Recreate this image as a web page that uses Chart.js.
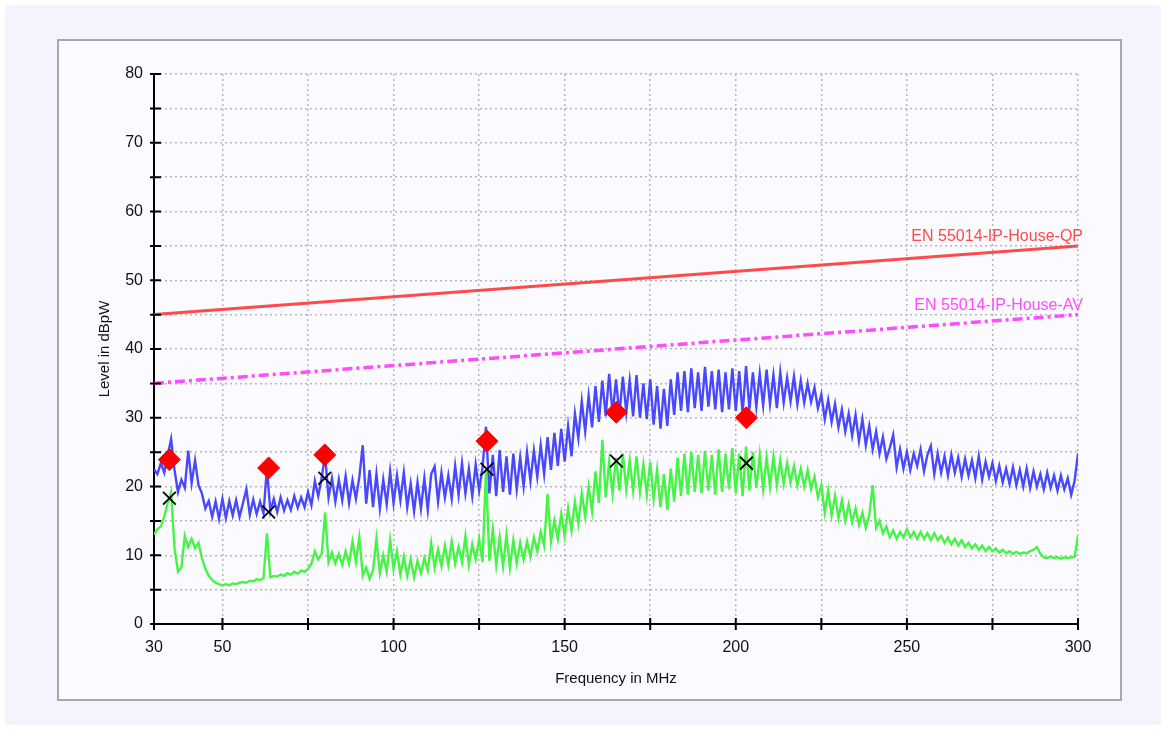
<!DOCTYPE html>
<html>
<head>
<meta charset="utf-8">
<script src="https://cdn.jsdelivr.net/npm/chart.js@4.4.1/dist/chart.umd.min.js"></script>
<style>
  html, body { margin: 0; padding: 0; background: #ffffff; }
  #outer { position: absolute; left: 5px; top: 5px; width: 1156px; height: 720px; background: #f4f4fd; }
  #panel { position: absolute; left: 57px; top: 39px; width: 1061px; height: 658px; background: #fbfbff;
           border: 2px solid #a6a6ae; }
  #wrap { position: absolute; left: 0; top: 0; width: 1166px; height: 731px; }
</style>
</head>
<body>
<div id="outer"></div>
<div id="panel"></div>
<div id="wrap"><canvas id="emiChart" width="1166" height="731"></canvas></div>
<script>
// frequency grid of the sweep, 1 MHz steps
var freqs = [];
for (var f = 30; f <= 300; f++) freqs.push(f);

// peak trace (blue), dBpW
var peakLevel = [
  22.5, 21.8, 23.4, 22.0, 24.5, 26.9, 22.4, 19.2, 21.0, 19.8,
  25.2, 20.5, 23.8, 20.2, 19.0, 16.8, 17.9, 15.6, 17.8, 15.3,
  18.2, 15.4, 17.9, 15.8, 18.0, 15.6, 17.6, 19.6, 15.9, 18.1,
  16.0, 17.8, 16.1, 22.7, 16.4, 18.2, 16.3, 18.4, 16.5, 18.0,
  16.6, 18.6, 16.9, 18.4, 17.0, 19.2, 17.3, 20.8, 18.6, 21.3,
  24.6, 18.4, 21.2, 17.8, 21.0, 18.0, 21.5, 17.6, 20.9, 18.2,
  21.4, 26.0, 17.5, 22.4, 17.0, 21.8, 16.8, 21.0, 17.4, 22.2,
  17.6, 21.6, 18.0, 22.0, 17.0, 20.4, 16.4, 20.6, 16.8, 21.2,
  16.6, 21.8, 22.9, 17.8, 22.0, 18.4, 21.6, 18.2, 23.0, 18.8,
  23.4, 19.0, 22.6, 18.6, 23.2, 19.4, 22.8, 28.7, 19.0, 24.6,
  18.6, 25.3, 19.2, 24.4, 18.8, 24.8, 19.6, 24.2, 20.0, 25.0,
  20.8, 25.2, 21.4, 26.0, 21.8, 27.2, 22.4, 27.8, 23.0, 28.4,
  23.6, 28.8, 24.4, 30.6, 27.0, 32.4, 28.0, 33.2, 28.6, 34.6,
  29.4, 35.4, 30.2, 36.4, 30.6, 35.6, 30.4, 36.0, 30.8, 35.4,
  30.2, 36.2, 30.0, 35.0, 29.8, 35.6, 29.0, 34.6, 28.4, 34.2,
  28.8, 35.6, 30.4, 36.6, 31.0, 36.8, 30.8, 37.2, 31.4, 36.6,
  31.0, 37.4, 31.6, 36.8, 31.2, 37.0, 30.8, 36.6, 31.2, 37.2,
  31.0, 36.8, 30.6, 37.5, 31.2, 36.6, 31.6, 36.4, 31.8, 37.0,
  32.0, 36.2, 31.4, 36.6, 32.2, 35.8, 32.4, 36.0, 32.0, 35.4,
  32.2, 35.0, 32.3, 34.4, 31.4, 33.4, 29.8, 32.6, 29.4, 32.0,
  28.6, 31.2, 28.0, 30.6, 27.4, 30.4, 26.6, 29.8, 26.0, 28.8,
  25.4, 28.0, 24.8, 27.2, 24.0, 25.6, 27.5, 22.8, 25.4, 22.6,
  25.0, 22.4, 24.8, 23.0, 25.4, 22.2, 24.6, 25.9, 21.8, 24.8,
  22.0, 24.4, 21.6, 24.6, 22.0, 24.2, 21.4, 24.0, 21.6, 23.8,
  21.2, 24.4, 21.0, 23.6, 21.4, 23.4, 20.8, 23.0, 20.6, 22.6,
  20.4, 22.8, 20.2, 22.4, 20.0, 22.6, 19.8, 22.2, 20.0, 21.8,
  19.6, 22.0, 19.8, 21.6, 19.4, 21.6, 19.6, 21.2, 18.8, 20.8,
  24.8
];

// average trace (green), dBpW
var avgLevel = [
  13.0, 13.8, 14.2, 15.6, 17.6, 19.2, 11.0, 7.6, 8.2, 12.8,
  11.2, 12.4, 11.0, 11.8, 9.6, 8.0, 7.0, 6.4, 6.0, 5.8,
  5.6, 5.8, 5.6, 5.9, 5.8, 6.0, 6.1, 6.0, 6.3, 6.2,
  6.5, 6.4, 6.7, 13.2, 6.8, 7.0, 6.9, 7.2, 7.0, 7.4,
  7.2, 7.6, 7.3, 7.8, 7.6, 8.0, 8.8, 10.6, 9.4, 10.2,
  16.2, 9.0, 10.4, 8.8, 10.2, 8.6, 10.6, 8.8, 12.0, 9.0,
  12.6, 7.0, 8.2, 6.6, 7.8, 12.4, 7.4, 10.0, 7.6, 12.2,
  8.0, 10.6, 7.2, 9.8, 7.0, 9.4, 6.8, 9.2, 7.4, 9.6,
  7.8, 11.8, 8.2, 10.8, 8.4, 11.4, 8.6, 12.0, 8.8, 11.2,
  9.0, 12.8, 8.6, 11.6, 9.4, 12.4, 9.0, 22.4, 9.2, 13.8,
  8.6, 12.6, 8.4, 13.0, 8.2, 12.2, 8.8, 11.8, 9.4, 12.0,
  9.8, 12.6, 10.6, 13.4, 11.4, 18.9, 12.0, 15.0, 12.4, 16.0,
  12.8, 16.8, 13.6, 17.8, 14.6, 19.0, 15.6, 20.0, 16.4, 22.2,
  17.6, 26.8, 18.4, 23.6, 19.0, 24.2, 19.4, 24.8, 19.6, 23.8,
  19.4, 24.4, 19.2, 23.2, 18.8, 23.6, 18.2, 22.4, 17.0, 21.8,
  16.6, 22.6, 17.8, 24.2, 18.6, 24.8, 18.8, 25.0, 19.2, 24.6,
  19.0, 25.2, 19.4, 24.6, 18.8, 25.4, 19.2, 24.8, 19.6, 25.6,
  19.0, 24.8, 18.6, 25.8, 19.4, 25.0, 19.8, 24.6, 19.6, 24.2,
  20.0, 24.4, 20.2, 23.8, 20.4, 23.4, 20.6, 23.0, 20.2, 22.6,
  20.0, 22.4, 19.6, 21.4, 18.4, 20.2, 16.2, 19.4, 15.8, 18.6,
  15.4, 18.0, 15.0, 17.4, 14.8, 16.8, 14.4, 16.2, 14.0, 15.8,
  20.2, 14.0, 15.0, 13.2, 14.2, 12.6, 13.6, 12.4, 13.4, 12.6,
  13.8, 12.6, 13.4, 12.4, 13.4, 12.4, 13.2, 12.2, 13.2, 12.2,
  12.8, 11.8, 12.6, 11.6, 12.4, 11.4, 12.2, 11.2, 11.8, 11.0,
  11.6, 10.8, 11.4, 10.6, 11.2, 10.6, 11.0, 10.4, 10.8, 10.3,
  10.6, 10.2, 10.5, 10.2, 10.4, 10.3, 10.6, 10.8, 11.2, 10.2,
  9.7, 9.6, 9.8, 9.6, 9.7, 9.5, 9.7, 9.6, 9.7, 9.8,
  12.8
];

// limit lines
var limitFreq = [30, 300];
var qpLimit = [45, 55];
var avLimit = [35, 45];
var qpLimitName = "EN 55014-IP-House-QP";
var avLimitName = "EN 55014-IP-House-AV";

// final measurement points
var markFreq = [34.5, 63.5, 79.9, 127.3, 165.1, 203.1];
var qpMark = [23.9, 22.7, 24.6, 26.6, 30.8, 30.0];
var avMark = [18.3, 16.3, 21.2, 22.5, 23.7, 23.4];

// axes
var xTickValues = [30, 50, 75, 100, 125, 150, 175, 200, 225, 250, 275, 300];
var xTickLabels = [30, 50, 100, 150, 200, 250, 300];
var yTickLabels = [0, 10, 20, 30, 40, 50, 60, 70, 80];

function pts(xs, ys) {
  var out = [];
  for (var i = 0; i < xs.length; i++) out.push({x: xs[i], y: ys[i]});
  return out;
}

var axisTicks = {
  id: 'axisTicks',
  afterDraw: function(chart) {
    var ctx = chart.ctx, xs = chart.scales.x, ys = chart.scales.y;
    var left = chart.chartArea.left, bottom = chart.chartArea.bottom;
    ctx.save();
    ctx.strokeStyle = '#000';
    ctx.lineWidth = 2;
    ctx.beginPath();
    for (var v = 0; v <= 80; v += 5) {
      var py = ys.getPixelForValue(v);
      ctx.moveTo(left - 4, py); ctx.lineTo(left + 7, py);
    }
    xTickValues.forEach(function(t) {
      var px = xs.getPixelForValue(t);
      ctx.moveTo(px, bottom - 6); ctx.lineTo(px, bottom + 6);
    });
    ctx.stroke();
    // limit names
    ctx.font = '16px "Liberation Sans", Arial, sans-serif';
    ctx.textAlign = 'right';
    ctx.textBaseline = 'alphabetic';
    var rx = chart.chartArea.right + 5;
    ctx.fillStyle = '#ff4a4a';
    ctx.fillText(qpLimitName, rx, ys.getPixelForValue(qpLimit[1]) - 5);
    ctx.fillStyle = '#ff4cff';
    ctx.fillText(avLimitName, rx, ys.getPixelForValue(avLimit[1]) - 5);
    ctx.restore();
  }
};

var ctx = document.getElementById('emiChart').getContext('2d');
var emiChart = new Chart(ctx, {
  type: 'line',
  data: {
    datasets: [
      { label: 'QP', data: pts(markFreq, qpMark), showLine: false, order: 0,
        pointStyle: 'rectRot', pointRadius: 11, backgroundColor: '#ff0000', borderColor: '#ff0000', borderWidth: 1 },
      { label: 'AV', data: pts(markFreq, avMark), showLine: false, order: 1,
        pointStyle: 'crossRot', pointRadius: 9, borderColor: '#000000', borderWidth: 1.8 },
      { label: 'Average', data: pts(freqs, avgLevel), order: 2,
        borderColor: '#46f446', borderWidth: 2.4, pointRadius: 0, tension: 0 },
      { label: 'Peak', data: pts(freqs, peakLevel), order: 3,
        borderColor: '#4848ff', borderWidth: 2.4, pointRadius: 0, tension: 0 },
      { label: qpLimitName, data: pts(limitFreq, qpLimit), order: 4,
        borderColor: '#ff4a4a', borderWidth: 3, pointRadius: 0 },
      { label: avLimitName, data: pts(limitFreq, avLimit), order: 5,
        borderColor: '#ff4cff', borderWidth: 3.5, borderDash: [10, 4, 3, 4], pointRadius: 0 }
    ]
  },
  options: {
    responsive: false,
    animation: false,
    events: [],
    layout: { padding: { top: 74, right: 88, bottom: 0, left: 0 } },
    plugins: { legend: { display: false }, tooltip: { enabled: false } },
    scales: {
      x: {
        type: 'linear', min: 30, max: 300,
        afterFit: function(s) { s.height = 107; },
        afterBuildTicks: function(s) { s.ticks = xTickValues.map(function(v) { return {value: v}; }); },
        grid: { color: '#b8b8b8', lineWidth: 1.5, drawTicks: false },
        border: { display: true, color: '#000', width: 2, dash: [2, 3] },
        ticks: {
          padding: 14, color: '#111', maxRotation: 0, autoSkip: false,
          font: { family: '"Liberation Sans", Arial, sans-serif', size: 16 },
          callback: function(v) { return xTickLabels.indexOf(v) >= 0 ? String(v) : ''; }
        },
        title: { display: true, text: 'Frequency in MHz', color: '#111',
                 font: { family: '"Liberation Sans", Arial, sans-serif', size: 15 },
                 padding: { top: 0, bottom: 43 } }
      },
      y: {
        min: 0, max: 80,
        afterFit: function(s) { s.width = 154; },
        grid: { color: '#b8b8b8', lineWidth: 1.5, drawTicks: false },
        border: { display: true, color: '#000', width: 2, dash: [2, 3] },
        ticks: {
          stepSize: 5, padding: 11, color: '#111',
          font: { family: '"Liberation Sans", Arial, sans-serif', size: 16 },
          callback: function(v) { return yTickLabels.indexOf(v) >= 0 ? String(v) : ''; }
        },
        title: { display: true, text: 'Level in dBpW', color: '#111',
                 font: { family: '"Liberation Sans", Arial, sans-serif', size: 15 },
                 padding: { top: 96, bottom: 0 } }
      }
    }
  },
  plugins: [axisTicks]
});
</script>
</body>
</html>
